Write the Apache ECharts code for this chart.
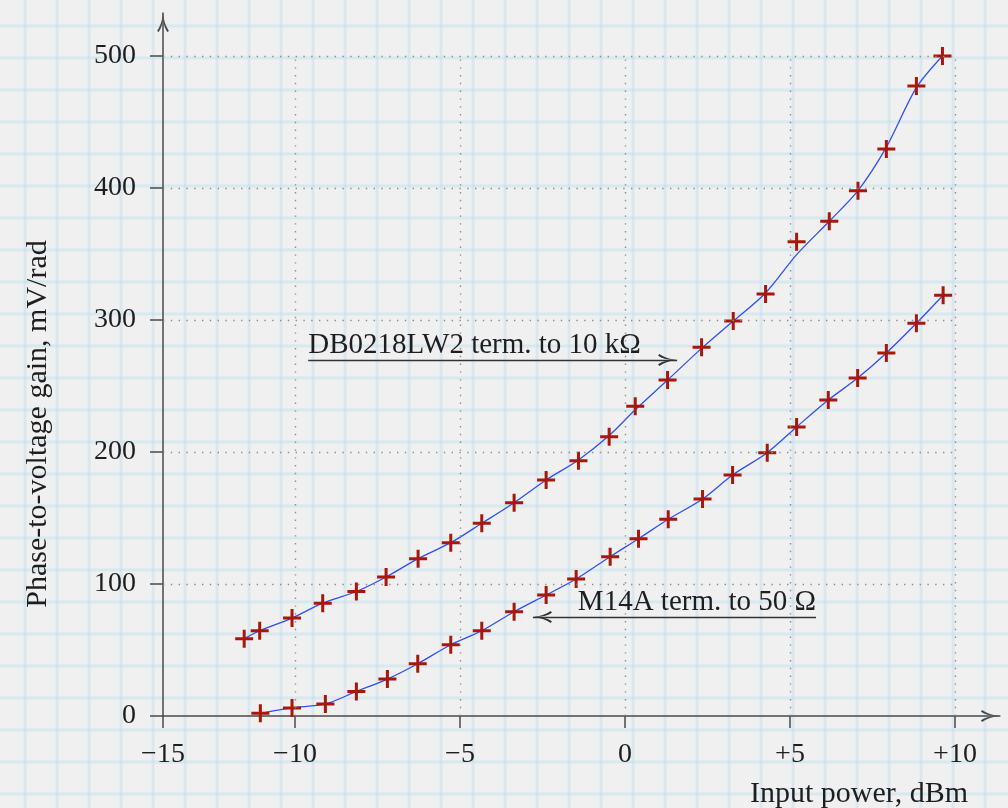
<!DOCTYPE html>
<html>
<head>
<meta charset="utf-8">
<script src="https://cdn.jsdelivr.net/npm/echarts@6/dist/echarts.min.js"></script>
<style>
html, body { margin: 0; padding: 0; }
body {
  width: 1008px; height: 808px; overflow: hidden;
  background-color: #f0f0f0;
  background-image:
    linear-gradient(90deg, transparent 0px, transparent 23px, rgba(185,222,236,0.42) 24px, rgba(185,222,236,0.42) 26px, transparent 27px),
    linear-gradient(180deg, transparent 0px, transparent 24px, rgba(185,222,236,0.42) 25px, rgba(185,222,236,0.42) 27px, transparent 28px);
  background-size: 32px 32px, 32px 32px;
}
#chart { width: 1008px; height: 808px; }
</style>
</head>
<body>
<div id="chart"></div>
<script>
// ---- tick labels ----
const xTickValues = [-14, -10, -5, 0, 5, 10];
const xTickLabels = ['\u221215', '\u221210', '\u22125', '0', '+5', '+10'];
const yTickValues = [0, 100, 200, 300, 400, 500];
const yTickLabels = ['0', '100', '200', '300', '400', '500'];

// ---- DB0218LW2 term. to 10 kOhm ----
const dbX = [-11.54, -11.07, -10.09, -9.16, -8.14, -7.24, -6.27, -5.28, -4.34, -3.36, -2.39, -1.41,
             -0.48, 0.31, 1.29, 2.32, 3.28, 4.26, 5.20, 6.19, 7.06, 7.92, 8.83, 9.62];
const dbY = [58.6, 64.6, 74.2, 85.5, 94.3, 105.3, 119.2, 131.3, 146.0, 161.6, 178.8, 193.4,
             211.6, 234.6, 254.5, 279.3, 299.2, 319.7, 359.3, 374.8, 398.0, 429.5, 477.3, 500.0];
// fitted curve drawn through the points
const dbCurveY = [58.6, 64.6, 74.2, 85.5, 94.3, 105.3, 119.2, 131.3, 146.0, 161.6, 178.8, 194.0,
                  212.5, 232.0, 254.5, 278.5, 299.2, 320.5, 349.5, 374.8, 398.0, 431.0, 476.0, 500.0];

// ---- M14A term. to 50 Ohm ----
const m14X = [-11.05, -10.09, -9.08, -8.14, -7.20, -6.28, -5.28, -4.34, -3.36, -2.39, -1.48, -0.45,
              0.41, 1.31, 2.35, 3.26, 4.31, 5.20, 6.16, 7.05, 7.92, 8.83, 9.64];
const m14Y = [2.0, 6.1, 9.1, 18.6, 28.0, 39.6, 54.0, 64.6, 79.0, 91.7, 103.8, 120.7,
              134.3, 149.0, 164.4, 182.6, 199.5, 219.0, 239.4, 256.0, 275.0, 297.5, 318.7];

// ---- annotations ----
const annoDbText = 'DB0218LW2 term. to 10 k\u03A9';
const annoDbLine = [[-9.6, 269.7], [1.58, 269.7]];
const annoM14Text = 'M14A term. to 50 \u03A9';
const annoM14Line = [[-2.79, 75], [5.79, 75]];

const X_MIN = -14, X_MAX = 11.36, Y_MIN = 0, Y_MAX = 532.5;
const GRID_X_MAX = 10, GRID_Y_MAX = 500;

const FONT = '"Liberation Serif", "Times New Roman", serif';
const ARROW = 'path://M6,0 Q7,11 12,18 L10.3,19.2 Q6.5,13.5 6,4.2 Q5.5,13.5 1.7,19.2 L0,18 Q5,11 6,0 Z';
const PLUS = 'path://M7.5,0 H10.5 V7.5 H18 V10.5 H10.5 V18 H7.5 V10.5 H0 V7.5 H7.5 Z';

const zip = (xs, ys) => xs.map((x, i) => [x, ys[i]]);

const gridLines = []
  .concat(xTickValues.filter(v => v > X_MIN).map(v => [{ coord: [v, Y_MIN] }, { coord: [v, GRID_Y_MAX] }]))
  .concat(yTickValues.filter(v => v > Y_MIN).map(v => [{ coord: [X_MIN, v] }, { coord: [GRID_X_MAX, v] }]));

const chart = echarts.init(document.getElementById('chart'), null, { renderer: 'canvas' });

const labelStyle = { fontFamily: FONT, fontSize: 28, color: '#1e1e1e' };

chart.setOption({
  animation: false,
  backgroundColor: 'transparent',
  grid: { left: 163, right: 8.12, top: 13.1, bottom: 92 },
  xAxis: {
    type: 'value', min: X_MIN, max: X_MAX,
    axisLine: { show: true, onZero: false, symbol: ['none', ARROW], symbolSize: [12, 19], symbolOffset: [0, -9.5],
                lineStyle: { color: '#4a4a4a', width: 1.5 } },
    axisTick: { show: true, length: 12, customValues: xTickValues, lineStyle: { color: '#4a4a4a', width: 1.5 } },
    axisLabel: Object.assign({ margin: 25, customValues: xTickValues,
      formatter: v => { const i = xTickValues.indexOf(v); return i >= 0 ? xTickLabels[i] : ''; } }, labelStyle),
    splitLine: { show: false }
  },
  yAxis: {
    type: 'value', min: Y_MIN, max: Y_MAX,
    axisLine: { show: true, onZero: false, symbol: ['none', ARROW], symbolSize: [12, 19], symbolOffset: [0, -9.5],
                lineStyle: { color: '#4a4a4a', width: 1.5 } },
    axisTick: { show: true, length: 13, customValues: yTickValues, lineStyle: { color: '#4a4a4a', width: 1.5 } },
    axisLabel: Object.assign({ margin: 27, customValues: yTickValues,
      formatter: v => { const i = yTickValues.indexOf(v); return i >= 0 ? yTickLabels[i] : ''; } }, labelStyle),
    splitLine: { show: false }
  },
  graphic: [
    { type: 'text', x: 859, y: 794, silent: true,
      style: { text: 'Input power, dBm', fill: '#1e1e1e', font: '30px ' + FONT, textAlign: 'center', textVerticalAlign: 'middle' } },
    { type: 'text', x: 38, y: 424, rotation: Math.PI / 2, silent: true,
      style: { text: 'Phase-to-voltage gain, mV/rad', fill: '#1e1e1e', font: '30px ' + FONT, textAlign: 'center', textVerticalAlign: 'middle' } }
  ],
  series: [
    {
      name: 'grid', type: 'line', data: [], z: 1, silent: true,
      markLine: { silent: true, symbol: 'none', animation: false, label: { show: false },
        lineStyle: { type: [1.4, 6.4], color: '#8c8c8c', width: 1.4 }, data: gridLines }
    },
    {
      name: 'DB0218LW2 curve', type: 'line', data: zip(dbX, dbCurveY), smooth: 0.3, showSymbol: false,
      clip: false, z: 3, lineStyle: { color: '#2f4ff5', width: 1.3 },
      markLine: { silent: true, animation: false, symbol: ['none', ARROW], symbolSize: [12, 19], symbolOffset: [[0, 0], [0, 9.5]],
        lineStyle: { color: '#333', width: 1.3, type: 'solid' },
        label: { show: true, position: 'insideStartTop', distance: [0, 0], formatter: annoDbText,
                 fontFamily: FONT, fontSize: 29, color: '#1e1e1e' },
        data: [[{ coord: annoDbLine[0] }, { coord: annoDbLine[1] }]] }
    },
    {
      name: 'DB0218LW2', type: 'scatter', data: zip(dbX, dbY), symbol: PLUS, symbolSize: 18, z: 4, clip: false,
      itemStyle: { color: '#a8170a', opacity: 1 }
    },
    {
      name: 'M14A curve', type: 'line', data: zip(m14X, m14Y), smooth: 0.3, showSymbol: false,
      clip: false, z: 3, lineStyle: { color: '#2f4ff5', width: 1.3 },
      markLine: { silent: true, animation: false, symbol: [ARROW, 'none'], symbolSize: [12, 19], symbolOffset: [[0, 9.5], [0, 0]],
        lineStyle: { color: '#333', width: 1.3, type: 'solid' },
        label: { show: true, position: 'insideEndTop', distance: [0, 0], formatter: annoM14Text,
                 fontFamily: FONT, fontSize: 29, color: '#1e1e1e' },
        data: [[{ coord: annoM14Line[0] }, { coord: annoM14Line[1] }]] }
    },
    {
      name: 'M14A', type: 'scatter', data: zip(m14X, m14Y), symbol: PLUS, symbolSize: 18, z: 4, clip: false,
      itemStyle: { color: '#a8170a', opacity: 1 }
    }
  ]
});
</script>
</body>
</html>
